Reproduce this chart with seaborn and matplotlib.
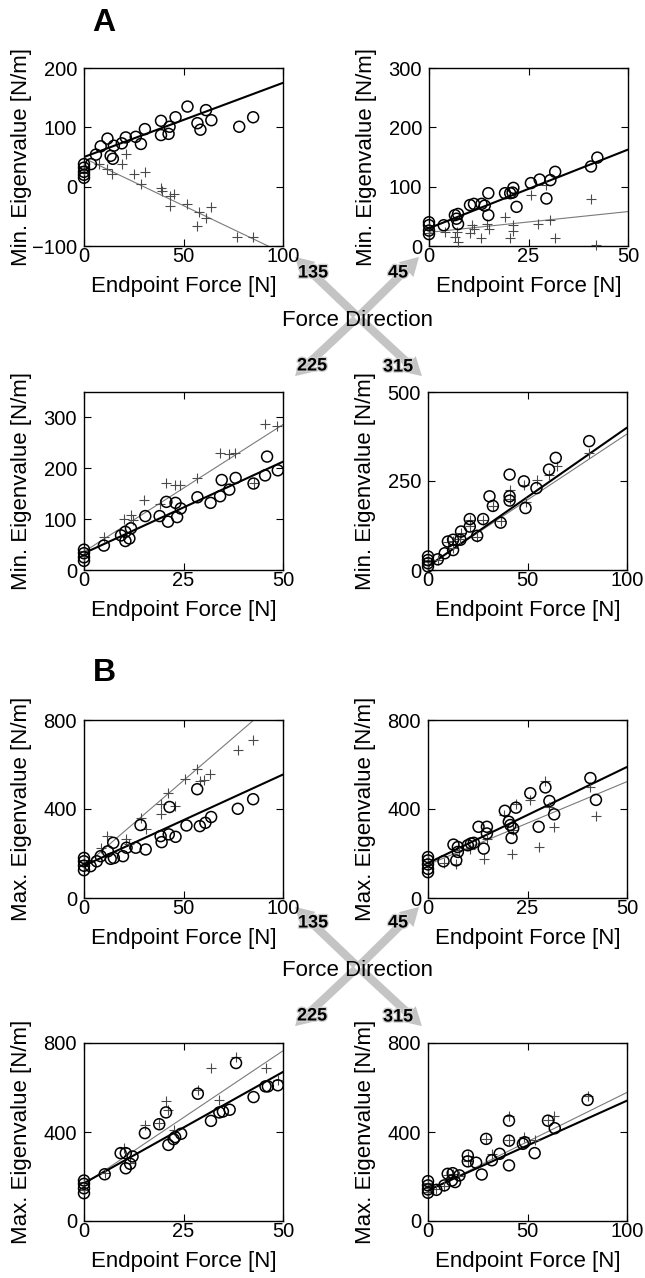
import matplotlib
matplotlib.use("Agg")
import matplotlib.pyplot as plt
import matplotlib.patheffects as pe
from matplotlib.patches import FancyArrowPatch
import seaborn as sns
import numpy as np

# =========================
# DATA
# o = circles (black fit), p = plus signs (grey fit)
# =========================

# A, 135 deg
a135_force_o = [0, 0, 0, 0, 0, 3.5, 6, 8.4, 11.8, 13.4, 14.5, 15, 19, 21, 26, 28.6, 30.6, 38.7, 38.7, 42.5, 43, 46, 52, 57, 58.5, 61.3, 64, 78, 85]
a135_eig_o = [38, 32, 25, 20, 15, 38, 54, 68, 81, 52, 47, 69, 73, 83, 84, 72, 97, 111, 87, 89, 101, 117, 135, 107, 96, 129, 112, 101, 117]
a135_force_p = [0, 0, 7.6, 11.8, 14, 19, 21, 25, 28.6, 30.6, 38.7, 39, 43, 45.4, 43, 52, 58, 57, 61.3, 64, 77, 85]
a135_eig_p = [35, 28, 38, 30, 22, 39, 55, 21, 4, 24, -3, -7, -15, -12, -32, -30, -42, -67, -53, -35, -84, -85]
a135_fit_o = [50, 1.25]
a135_fit_p = [48, -1.6]

# A, 45 deg
a45_force_o = [0, 0, 0, 0, 3.7, 6.5, 7.3, 6.9, 7.3, 10.3, 11.3, 13.2, 14, 14.9, 14.9, 19.1, 20.4, 21, 21.2, 22, 25.6, 27.8, 29.5, 30.5, 31.7, 40.7, 42.3]
a45_eig_o = [40, 35, 26, 20, 35, 52, 54, 46, 37, 69, 71, 71, 68, 89, 52, 89, 89, 90, 98, 66, 106, 112, 80, 111, 125, 134, 149]
a45_force_p = [0, 0, 4, 6.5, 7.2, 7, 10.3, 10.7, 11.3, 13, 14.5, 15, 19, 20.4, 21, 21, 25.6, 27.5, 30.5, 29.5, 31.7, 40.8, 42]
a45_eig_p = [30, 22, 23, 15, 7, 23, 22, 35, 29, 13, 37, 29, 49, 13, 35, 26, 86, 37, 44, 102, 13, 79, 1]
a45_fit_o = [30, 2.65]
a45_fit_p = [23, 0.7]

# A, 225 deg
a225_force_o = [0, 0, 0, 0, 5, 9.3, 10.4, 10.4, 11.4, 11.8, 15.4, 19, 20.7, 21.1, 23.4, 23, 24.3, 28.5, 31.8, 34.2, 34.6, 36.5, 38.1, 42.6, 45.5, 46, 48.7]
a225_eig_o = [40, 33, 25, 18, 48, 68, 75, 57, 62, 82, 106, 106, 134, 95, 104, 132, 121, 143, 132, 145, 177, 158, 181, 170, 186, 223, 196]
a225_force_p = [0, 0, 5, 10, 11.8, 12.2, 15.2, 19, 20.7, 22.8, 24, 28.5, 34.2, 36.5, 38, 42.6, 45.5, 48.5]
a225_eig_p = [38, 28, 65, 101, 108, 98, 137, 129, 171, 168, 168, 181, 230, 228, 230, 171, 287, 284]
a225_fit_o = [33, 3.6]
a225_fit_p = [36, 5.0]

# A, 315 deg
a315_force_o = [0, 0, 0, 0, 4.9, 8.4, 10, 12.6, 12.6, 16.6, 16.3, 21, 21, 24.7, 27.7, 30.9, 32.6, 36.5, 41, 41, 41, 48.2, 49, 54.5, 60.8, 64.2, 81]
a315_eig_o = [38, 28, 19, 10, 30, 47, 80, 56, 85, 108, 85, 143, 122, 96, 143, 207, 180, 133, 268, 207, 195, 249, 174, 230, 282, 315, 362]
a315_force_p = [0, 0, 0, 5, 10, 12.6, 12.6, 16.6, 16.3, 21, 21, 24.7, 27.7, 32.6, 36.5, 41, 41, 48.2, 49, 55, 61, 64.7, 81]
a315_eig_p = [35, 25, 15, 28, 78, 62, 82, 104, 88, 140, 125, 93, 140, 180, 138, 226, 200, 240, 190, 254, 268, 291, 329]
a315_fit_o = [10, 3.9]
a315_fit_p = [12, 3.7]

# B, 135 deg
b135_force_o = [0, 0, 0, 0, 3.3, 6.4, 8.4, 12, 13.4, 15, 14.7, 19.6, 21.4, 26, 28.4, 31, 38.5, 39, 42.6, 43, 46, 51.5, 56.9, 58.2, 61, 63.9, 77.3, 85]
b135_eig_o = [180, 165, 145, 125, 143, 165, 188, 210, 176, 180, 248, 188, 226, 226, 328, 218, 278, 251, 286, 409, 275, 326, 489, 323, 338, 364, 401, 444]
b135_force_p = [0, 0, 8.4, 11.7, 21, 22.6, 28.4, 31, 38.5, 38.8, 42, 45.5, 51, 56.9, 58.5, 60.5, 63.5, 77.3, 85]
b135_eig_p = [170, 150, 226, 278, 263, 241, 361, 308, 421, 376, 471, 414, 537, 579, 526, 531, 559, 665, 710]
b135_fit_o = [145, 4.1]
b135_fit_p = [143, 7.7]

# B, 45 deg
b45_force_o = [0, 0, 0, 0, 0, 3.9, 6.4, 7.1, 7.5, 7.5, 10, 10.8, 11.5, 12.7, 14, 14.8, 14.8, 19.3, 20.3, 20.7, 21, 21.4, 22.1, 25.7, 27.8, 29.5, 30.5, 31.7, 40.8, 42.2]
b45_eig_o = [184, 169, 151, 131, 116, 165, 240, 169, 229, 207, 237, 245, 248, 320, 222, 320, 290, 392, 343, 328, 270, 313, 406, 471, 320, 497, 436, 376, 539, 441]
b45_force_p = [0, 0, 3.9, 7.1, 7.7, 10.6, 14, 14.8, 19, 21, 21.4, 22, 25.7, 27.8, 29.5, 31.7, 30.5, 40.8, 42.2]
b45_eig_p = [175, 140, 157, 151, 214, 222, 177, 267, 373, 199, 305, 423, 441, 229, 524, 320, 410, 501, 368]
b45_fit_o = [157, 8.64]
b45_fit_p = [150, 7.46]

# B, 225 deg
b225_force_o = [0, 0, 0, 0, 5.2, 9.2, 10.5, 10.5, 11.6, 12.2, 15.3, 18.9, 20.6, 21.2, 22.5, 22.9, 24.4, 28.6, 31.9, 34, 34.9, 36.6, 38.2, 42.6, 45.6, 46.2, 48.7]
b225_eig_o = [182, 167, 147, 125, 210, 305, 305, 237, 257, 290, 395, 435, 488, 342, 368, 377, 392, 572, 450, 488, 492, 500, 710, 557, 605, 605, 610]
b225_force_p = [0, 0, 5.2, 10, 11.6, 15.3, 18.9, 20.6, 21, 22.7, 28.6, 31.8, 34, 38.2, 45.8, 48.7]
b225_eig_p = [175, 140, 214, 327, 260, 432, 440, 541, 500, 410, 590, 688, 545, 737, 688, 635]
b225_fit_o = [170, 10.0]
b225_fit_p = [165, 12.0]

# B, 315 deg
b315_force_o = [0, 0, 0, 0, 4.2, 8.2, 9.9, 12.4, 12, 13.6, 15.8, 20, 20, 24.2, 27, 29.2, 32.1, 36, 40.7, 40.7, 40.7, 47.7, 48.6, 53.6, 60.3, 63.7, 80.2]
b315_eig_o = [179, 160, 142, 127, 140, 160, 212, 215, 182, 175, 205, 294, 268, 262, 209, 369, 273, 302, 451, 361, 250, 347, 354, 305, 451, 417, 544]
b315_force_p = [0, 0, 0, 4.2, 8.2, 9.9, 12.4, 15.8, 20, 20, 29.2, 32, 40.7, 40.7, 48, 53.6, 60.3, 63.4, 80.2]
b315_eig_p = [170, 150, 130, 142, 158, 208, 212, 202, 294, 270, 369, 302, 473, 362, 377, 366, 455, 471, 563]
b315_fit_o = [138, 4.03]
b315_fit_p = [135, 4.43]

direction_labels = ["135", "45", "225", "315"]

# =========================
# STYLE
# =========================
sns.set_style("ticks")
plt.rcParams["font.family"] = ["Liberation Sans", "DejaVu Sans"]
plt.rcParams.update({
    "text.color": "black",
    "axes.labelcolor": "black",
    "axes.edgecolor": "black",
    "xtick.color": "black",
    "ytick.color": "black",
})

W, H = 645, 1278
fig = plt.figure(figsize=(W / 100, H / 100), dpi=100)

overlay = fig.add_axes([0, 0, 1, 1])
overlay.set_xlim(0, W)
overlay.set_ylim(H, 0)
overlay.axis("off")

PW, PH = 199, 178


def draw_panel(left, top, fo, eo, fp, ep, fit_o, fit_p, xmax, ylim, yticks, ylabel):
    ax = fig.add_axes([left / W, 1 - (top + PH) / H, PW / W, PH / H])
    xs = np.array([0, xmax])

    sns.lineplot(x=xs, y=fit_p[0] + fit_p[1] * xs, ax=ax, color="#7a7a7a", lw=0.8)
    sns.lineplot(x=xs, y=fit_o[0] + fit_o[1] * xs, ax=ax, color="black", lw=1.5)

    sns.scatterplot(x=fp, y=ep, ax=ax, marker="+", color="#4a4a4a",
                    s=55, linewidth=0.8, clip_on=False, zorder=3)
    sns.scatterplot(x=fo, y=eo, ax=ax, marker="o", facecolors="none",
                    edgecolor="black", s=62, linewidth=1.1, clip_on=False, zorder=4)

    ax.set_xlim(0, xmax)
    ax.set_ylim(*ylim)
    ax.set_xticks([0, xmax / 2, xmax])
    ax.set_xticklabels([f"{v:g}" for v in [0, xmax / 2, xmax]])
    ax.set_yticks(yticks)
    ax.tick_params(direction="in", top=True, right=True, length=5, width=0.8,
                   labelsize=14.5)
    ax.tick_params(axis="x", pad=1)
    ax.tick_params(axis="y", pad=5)
    for s in ax.spines.values():
        s.set_linewidth(1.0)

    ax.set_xlabel("Endpoint Force [N]", fontsize=16)
    ax.set_ylabel(ylabel, fontsize=16)
    ax.xaxis.set_label_coords(0.5, -0.17)
    ax.yaxis.set_label_coords(-0.26, 0.5)
    return ax


# A
draw_panel(84, 68, a135_force_o, a135_eig_o, a135_force_p, a135_eig_p, a135_fit_o, a135_fit_p,
           100, (-100, 200), [-100, 0, 100, 200], "Min. Eigenvalue [N/m]")
draw_panel(429, 68, a45_force_o, a45_eig_o, a45_force_p, a45_eig_p, a45_fit_o, a45_fit_p,
           50, (0, 300), [0, 100, 200, 300], "Min. Eigenvalue [N/m]")
draw_panel(84, 392, a225_force_o, a225_eig_o, a225_force_p, a225_eig_p, a225_fit_o, a225_fit_p,
           50, (0, 350), [0, 100, 200, 300], "Min. Eigenvalue [N/m]")
draw_panel(428, 392, a315_force_o, a315_eig_o, a315_force_p, a315_eig_p, a315_fit_o, a315_fit_p,
           100, (0, 500), [0, 250, 500], "Min. Eigenvalue [N/m]")

# B
draw_panel(84, 720, b135_force_o, b135_eig_o, b135_force_p, b135_eig_p, b135_fit_o, b135_fit_p,
           100, (0, 800), [0, 400, 800], "Max. Eigenvalue [N/m]")
draw_panel(428, 720, b45_force_o, b45_eig_o, b45_force_p, b45_eig_p, b45_fit_o, b45_fit_p,
           50, (0, 800), [0, 400, 800], "Max. Eigenvalue [N/m]")
draw_panel(84, 1043, b225_force_o, b225_eig_o, b225_force_p, b225_eig_p, b225_fit_o, b225_fit_p,
           50, (0, 800), [0, 400, 800], "Max. Eigenvalue [N/m]")
draw_panel(428, 1043, b315_force_o, b315_eig_o, b315_force_p, b315_eig_p, b315_fit_o, b315_fit_p,
           100, (0, 800), [0, 400, 800], "Max. Eigenvalue [N/m]")

# =========================
# FORCE DIRECTION CROSSES
# =========================
halo = [pe.withStroke(linewidth=2, foreground="#d0d0d0")]
for cx, cy in [(358, 317), (358, 967)]:
    for dx, dy in [(-65, -62), (63, -62), (-65, 61), (66, 61)]:
        arrow = FancyArrowPatch((cx, cy), (cx + dx, cy + dy),
                                arrowstyle="simple,head_length=13,head_width=15,tail_width=6",
                                mutation_scale=1, color="#c4c4c4", lw=0, zorder=1)
        overlay.add_patch(arrow)
    label_pos = [(cx - 45, cy - 44), (cx + 40, cy - 44), (cx - 46, cy + 49), (cx + 40, cy + 50)]
    for txt, (lx, ly) in zip(direction_labels, label_pos):
        overlay.text(lx, ly, txt, ha="center", va="center", fontsize=13,
                     fontweight="bold", path_effects=halo, zorder=3)
    overlay.text(cx, cy + 3, "Force Direction", ha="center", va="center",
                 fontsize=16, zorder=4)

overlay.text(104, 23, "A", ha="center", va="center", fontsize=23, fontweight="bold")
overlay.text(104, 673, "B", ha="center", va="center", fontsize=23, fontweight="bold")

fig.savefig("out.png", dpi=100)
